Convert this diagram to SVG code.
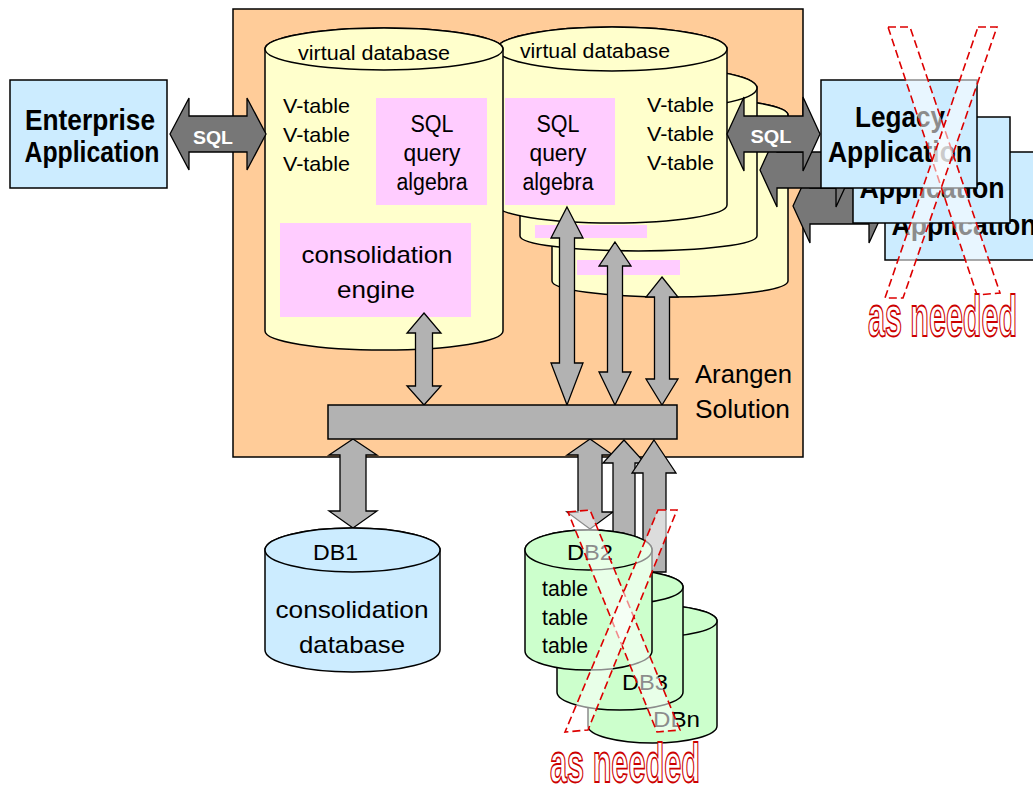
<svg xmlns="http://www.w3.org/2000/svg" width="1033" height="786" viewBox="0 0 1033 786">
<style>
.ln{stroke:#000;stroke-width:1.5}
.cyl{fill:#FFFFCC}
.pink{fill:#FFCCFF}
.blue{fill:#CCECFF}
.green{fill:#CCFFCC}
.arr{fill:#B2B2B2;stroke:#000;stroke-width:1.3;stroke-linejoin:miter}
.sqlarr{fill:#777777;stroke:#000;stroke-width:1.3}
.t{font-family:"Liberation Sans",Arial,sans-serif;fill:#000}
.tb{font-family:"Liberation Sans Narrow","Liberation Sans",Arial,sans-serif;font-weight:bold;fill:#000}
.sq{font-family:"Liberation Sans",Arial,sans-serif;font-weight:bold;fill:#fff;font-size:19px}
.x{fill:#fff;fill-opacity:0.55;stroke:#DD0000;stroke-width:1.6;stroke-dasharray:8 4}
.need{font-family:"Liberation Sans",Arial,sans-serif;font-weight:bold;fill:#fff;stroke:#CC0000;stroke-width:1.8}
</style>

<g id="arangen-solution">
<rect x="233" y="9" width="570" height="448" fill="#FFCC99" class="ln"/>
<text class="t" x="695" y="383" font-size="26" textLength="97" lengthAdjust="spacingAndGlyphs">Arangen</text>
<text class="t" x="695" y="418" font-size="26" textLength="95" lengthAdjust="spacingAndGlyphs">Solution</text>
</g>

<g id="vdb4">
<path class="cyl ln" d="M552,115 V281 A118,16 0 0 0 788,281 V115 A118,18 0 0 0 552,115 Z"/>
<ellipse class="cyl ln" cx="670" cy="115" rx="118" ry="18"/>
<rect class="pink" x="577" y="260" width="103" height="15"/>
</g>
<g id="vdb3">
<path class="cyl ln" d="M520,88 V236 A118.5,15 0 0 0 757,236 V88 A118.5,22 0 0 0 520,88 Z"/>
<ellipse class="cyl ln" cx="638.5" cy="88" rx="118.5" ry="22"/>
<rect class="pink" x="535" y="225" width="112" height="13"/>
</g>
<g id="vdb2">
<path class="cyl ln" d="M497,49 V205 A115,18 0 0 0 727,205 V49 A115,22 0 0 0 497,49 Z"/>
<ellipse class="cyl ln" cx="612" cy="49" rx="115" ry="22"/>
<text class="t" x="595" y="58" font-size="20" text-anchor="middle" textLength="150" lengthAdjust="spacingAndGlyphs">virtual database</text>
<rect class="pink" x="505" y="98" width="110" height="107"/>
<text class="t" x="558" y="132" font-size="23" text-anchor="middle" textLength="43" lengthAdjust="spacingAndGlyphs">SQL</text>
<text class="t" x="558" y="161" font-size="23" text-anchor="middle" textLength="57" lengthAdjust="spacingAndGlyphs">query</text>
<text class="t" x="558" y="190" font-size="23" text-anchor="middle" textLength="71" lengthAdjust="spacingAndGlyphs">algebra</text>
<text class="t" x="647" y="112" font-size="21" textLength="67" lengthAdjust="spacingAndGlyphs">V-table</text>
<text class="t" x="647" y="141" font-size="21" textLength="67" lengthAdjust="spacingAndGlyphs">V-table</text>
<text class="t" x="647" y="170" font-size="21" textLength="67" lengthAdjust="spacingAndGlyphs">V-table</text>
</g>
<g id="vdb1">
<path class="cyl ln" d="M265,49 V331 A119,19 0 0 0 503,331 V49 A119,21 0 0 0 265,49 Z"/>
<ellipse class="cyl ln" cx="384" cy="49" rx="119" ry="21"/>
<text class="t" x="374" y="60" font-size="20" text-anchor="middle" textLength="152" lengthAdjust="spacingAndGlyphs">virtual database</text>
<text class="t" x="283" y="113" font-size="21" textLength="67" lengthAdjust="spacingAndGlyphs">V-table</text>
<text class="t" x="283" y="142" font-size="21" textLength="67" lengthAdjust="spacingAndGlyphs">V-table</text>
<text class="t" x="283" y="171" font-size="21" textLength="67" lengthAdjust="spacingAndGlyphs">V-table</text>
<rect class="pink" x="376" y="98" width="111" height="107"/>
<text class="t" x="432" y="132" font-size="23" text-anchor="middle" textLength="43" lengthAdjust="spacingAndGlyphs">SQL</text>
<text class="t" x="432" y="161" font-size="23" text-anchor="middle" textLength="57" lengthAdjust="spacingAndGlyphs">query</text>
<text class="t" x="432" y="190" font-size="23" text-anchor="middle" textLength="71" lengthAdjust="spacingAndGlyphs">algebra</text>
<g id="consolidation-engine">
<rect class="pink" x="280" y="223" width="191" height="94"/>
<text class="t" x="377" y="263" font-size="24" text-anchor="middle" textLength="151" lengthAdjust="spacingAndGlyphs">consolidation</text>
<text class="t" x="376" y="298" font-size="24" text-anchor="middle" textLength="78" lengthAdjust="spacingAndGlyphs">engine</text>
</g>
</g>

<g id="connectors">
<polygon class="arr" points="424,313 441,333 432.5,333 432.5,386 441,386 424,405 407,386 415.5,386 415.5,333 407,333"/>
<polygon class="arr" points="567,207 583,238 574.5,238 574.5,363 583,363 567,405 551,363 559.5,363 559.5,238 551,238"/>
<polygon class="arr" points="615,242 631,266 622.5,266 622.5,372 631,372 615,405 599,372 607.5,372 607.5,266 599,266"/>
<polygon class="arr" points="662,277 678,297 669.5,297 669.5,379 678,379 662,405 646,379 654.5,379 654.5,297 646,297"/>
<polygon class="arr" points="353,439 377,455 366,455 366,511 377,511 353,528 329,511 340,511 340,455 329,455"/>
<polygon class="arr" points="590,439 613,455 602,455 602,512 613,512 590,529 567,512 578,512 578,455 567,455"/>
<polygon class="arr" points="624,440 645,463 635,463 635,560 613,560 613,463 603,463"/>
<polygon class="arr" points="654,440 676,473 666,473 666,572 643,572 643,473 632,473"/>
</g>

<g id="bus">
<rect x="328" y="405" width="349" height="34" fill="#B2B2B2" class="ln"/>
</g>

<g id="dbn">
<path class="green ln" d="M588,621 V726 A64.5,17 0 0 0 717,726 V621 A64.5,16 0 0 0 588,621 Z"/>
<ellipse class="green ln" cx="652.5" cy="621" rx="64.5" ry="16"/>
<text class="t" x="653" y="727" font-size="22" textLength="47" lengthAdjust="spacingAndGlyphs">DBn</text>
</g>
<g id="db3">
<path class="green ln" d="M557,587 V692 A63,18 0 0 0 683,692 V587 A63,17 0 0 0 557,587 Z"/>
<ellipse class="green ln" cx="620" cy="587" rx="63" ry="17"/>
<text class="t" x="622" y="690" font-size="22" textLength="46" lengthAdjust="spacingAndGlyphs">DB3</text>
</g>
<g id="db2">
<path class="green ln" d="M525,550 V651 A63.5,19 0 0 0 652,651 V550 A63.5,20 0 0 0 525,550 Z"/>
<ellipse class="green ln" cx="588.5" cy="550" rx="63.5" ry="20"/>
<text class="t" x="567" y="560" font-size="22" textLength="46" lengthAdjust="spacingAndGlyphs">DB2</text>
<text class="t" x="542" y="596" font-size="22" textLength="46" lengthAdjust="spacingAndGlyphs">table</text>
<text class="t" x="542" y="625" font-size="22" textLength="46" lengthAdjust="spacingAndGlyphs">table</text>
<text class="t" x="542" y="653" font-size="22" textLength="46" lengthAdjust="spacingAndGlyphs">table</text>
</g>
<g id="db1">
<path class="blue ln" d="M265,550 V650 A87.5,22 0 0 0 440,650 V550 A87.5,22 0 0 0 265,550 Z"/>
<ellipse class="blue ln" cx="352.5" cy="550" rx="87.5" ry="22"/>
<text class="t" x="313" y="560" font-size="22" textLength="45" lengthAdjust="spacingAndGlyphs">DB1</text>
<text class="t" x="352" y="618" font-size="24" text-anchor="middle" textLength="153" lengthAdjust="spacingAndGlyphs">consolidation</text>
<text class="t" x="352" y="653" font-size="24" text-anchor="middle" textLength="106" lengthAdjust="spacingAndGlyphs">database</text>
</g>

<g id="cross-db">
<polygon class="x" points="568,512 590,510 680,730 657,732"/>
<polygon class="x" points="658,510 677,510 588,730 565,732"/>
<text class="need" x="550" y="782" font-size="56" textLength="150" lengthAdjust="spacingAndGlyphs">as needed</text>
</g>

<g id="legacy3">
<rect class="blue ln" x="885" y="152" width="160" height="108"/>
<text class="tb" x="964" y="235" font-size="30" text-anchor="middle" textLength="145" lengthAdjust="spacingAndGlyphs">Application</text>
</g>
<g id="sql3">
<polygon class="sqlarr" points="793,206 810,169 810,188 869,188 869,169 886,206 869,243 869,224 810,224 810,243"/>
</g>
<g id="legacy2">
<rect class="blue ln" x="853" y="117" width="157" height="106"/>
<text class="tb" x="932" y="198" font-size="30" text-anchor="middle" textLength="145" lengthAdjust="spacingAndGlyphs">Application</text>
</g>
<g id="sql2">
<polygon class="sqlarr" points="760,170 777,133 777,152 836,152 836,133 853,170 836,207 836,188 777,188 777,207"/>
</g>
<g id="legacy1">
<rect class="blue ln" x="821" y="80" width="156" height="108"/>
<text class="tb" x="900" y="127" font-size="30" text-anchor="middle" textLength="90" lengthAdjust="spacingAndGlyphs">Legacy</text>
<text class="tb" x="900" y="162" font-size="30" text-anchor="middle" textLength="144" lengthAdjust="spacingAndGlyphs">Application</text>
</g>
<g id="sql1">
<polygon class="sqlarr" points="727,134 744,97 744,116 803,116 803,97 820,134 803,171 803,152 744,152 744,171"/>
<text class="sq" x="771" y="143" text-anchor="middle" textLength="41" lengthAdjust="spacingAndGlyphs">SQL</text>
</g>

<g id="enterprise">
<rect class="blue ln" x="10" y="80" width="157" height="108"/>
<text class="tb" x="90" y="130" font-size="30" text-anchor="middle" textLength="130" lengthAdjust="spacingAndGlyphs">Enterprise</text>
<text class="tb" x="92" y="162" font-size="30" text-anchor="middle" textLength="135" lengthAdjust="spacingAndGlyphs">Application</text>
</g>
<g id="sql-enterprise">
<polygon class="sqlarr" points="170,134 189,98 189,116 247,116 247,98 266,134 247,170 247,152 189,152 189,170"/>
<text class="sq" x="213" y="144" text-anchor="middle" textLength="40" lengthAdjust="spacingAndGlyphs">SQL</text>
</g>

<g id="cross-legacy">
<polygon class="x" points="888,27 910,27 1000,293 977,295"/>
<polygon class="x" points="978,27 997,27 903,298 885,298"/>
<text class="need" x="868" y="336" font-size="58" textLength="149" lengthAdjust="spacingAndGlyphs">as needed</text>
</g>
</svg>
